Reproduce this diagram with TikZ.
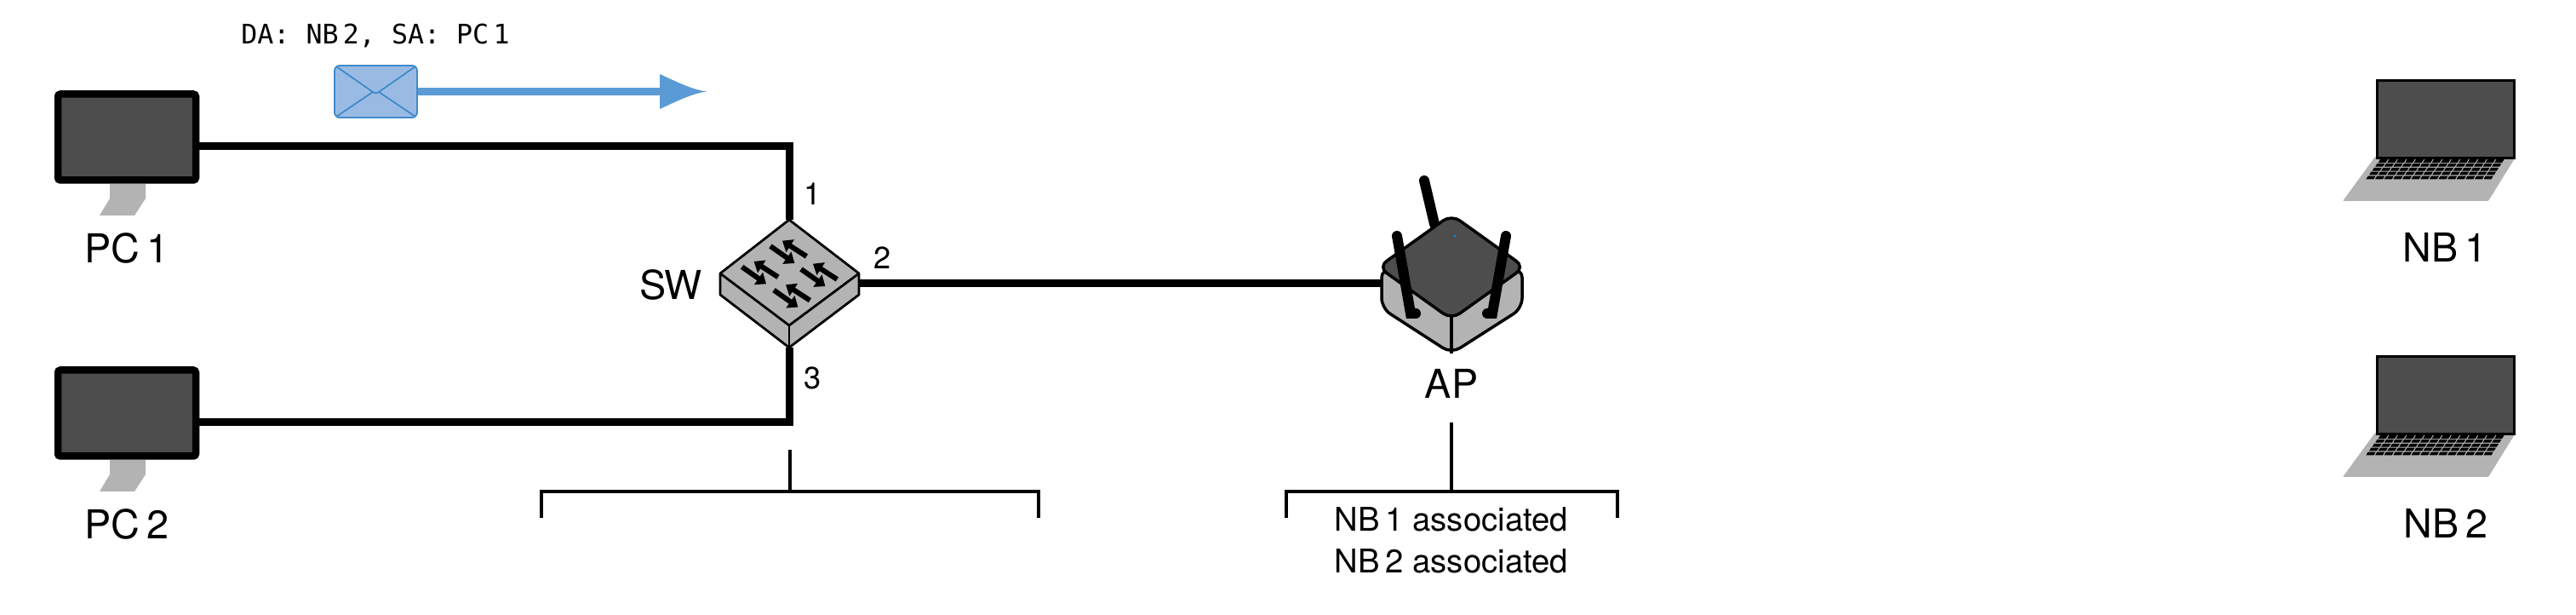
\documentclass[tikz,border=0pt]{standalone}
\usepackage{fontspec}
\setmainfont{TeX Gyre Heros}
\setmonofont{DejaVu Sans Mono}
\usetikzlibrary{arrows.meta}
\definecolor{screengray}{HTML}{4D4D4D}
\definecolor{bodygray}{HTML}{B3B3B3}
\definecolor{framesblue}{HTML}{5B9BD5}
\definecolor{envfill}{HTML}{99BBE3}
\definecolor{envline}{HTML}{3F8AC9}
\begin{document}
\begin{tikzpicture}[>=stealth,
    netlink/.style={line width=0.09cm},
    bracket/.style={line width=0.045cm},
    devline/.style={draw=black, line width=0.028cm, line join=round},
    monitor/.style={draw=black, fill=screengray, line width=0.085cm, rounded corners=0.03cm,
      minimum width=1.62cm, minimum height=1.01cm, inner sep=0pt, outer sep=0pt},
    antenna/.style={line width=0.12cm, line cap=round},
    swarrow/.style={-{Triangle[length=0.11cm, width=0.17cm]}, line width=0.06cm},
    envedge/.style={envline, line width=0.018cm},
    devlabel/.style={font=\fontsize{13.3}{15}\selectfont},
    portlabel/.style={font=\fontsize{10.3}{12}\selectfont},
    tablelabel/.style={font=\fontsize{10.9}{14}\selectfont, align=center}]
  \useasboundingbox (0, 0) rectangle (30.26, 7.22);

  % Link end points
  \coordinate (pc1port) at (2.34, 5.50);
  \coordinate (pc2port) at (2.34, 2.26);
  \coordinate (swtop) at (9.27, 4.64);
  \coordinate (swbot) at (9.27, 3.14);
  \coordinate (swright) at (10.09, 3.89);
  \coordinate (apleft) at (16.23, 3.89);

  % Cables
  \draw[netlink] (pc1port) -| (swtop);
  \draw[netlink] (pc2port) -| (swbot);
  \draw[netlink] (swright) -- (apleft);

  % PC stands and monitors
  \fill[bodygray] (1.29, 5.06) -- (1.29, 4.89) -- (1.17, 4.69) -- (1.58, 4.69) -- (1.71, 4.89) -- (1.71, 5.06) -- cycle;
  \fill[bodygray] (1.29, 1.82) -- (1.29, 1.65) -- (1.17, 1.45) -- (1.58, 1.45) -- (1.71, 1.65) -- (1.71, 1.82) -- cycle;
  \node[monitor] (pc1) at (1.49, 5.61) {};
  \node[monitor] (pc2) at (1.49, 2.37) {};
  \node[devlabel] (pc1label) at (1.49, 4.31) {PC\,1};
  \node[devlabel] (pc2label) at (1.49, 1.07) {PC\,2};

  % Frame going out of PC 1
  \node[draw=envline, fill=envfill, envedge, fill=envfill, rounded corners=0.06cm, minimum width=0.97cm,
    minimum height=0.61cm, inner sep=0pt] (env) at (4.415, 6.145) {};
  \draw[envedge] (3.95, 6.44) -- (4.38, 6.14) .. controls (4.40, 6.12) and (4.43, 6.12) .. (4.45, 6.14) -- (4.88, 6.44);
  \draw[envedge] (3.95, 5.85) -- (4.38, 6.14);
  \draw[envedge] (4.88, 5.85) -- (4.45, 6.14);
  \coordinate (framehead) at (7.80, 6.145);
  \draw[framesblue, line width=0.09cm] (env.east) -- (framehead);
  \fill[framesblue] (7.75, 6.35) .. controls (7.95, 6.26) and (8.12, 6.17) .. (8.30, 6.145)
    .. controls (8.12, 6.12) and (7.95, 6.03) .. (7.75, 5.94) -- cycle;
  \node[font=\ttfamily\fontsize{9}{11}\selectfont] (framelabel) at (4.41, 6.80) {DA:\ NB\,2,\ SA:\ PC\,1};

  % Switch
  \filldraw[devline, fill=bodygray] (8.46, 4.01) -- (9.27, 4.64) -- (10.09, 4.01) -- (10.09, 3.76) -- (9.27, 3.14) -- (8.46, 3.76) -- cycle;
  \draw[devline] (8.46, 4.01) -- (9.27, 3.40) -- (10.09, 4.01);
  \draw[devline] (9.27, 3.40) -- (9.27, 3.14);
  \foreach \x/\y in {9.267/4.263, 8.933/4.02, 9.627/3.993, 9.307/3.747} {
    \draw[swarrow] (\x-0.217, \y+0.067) -- (\x+0.067, \y-0.133);
    \draw[swarrow] (\x+0.207, \y-0.053) -- (\x-0.077, \y+0.13);
  }
  \node[devlabel] (swlabel) at (7.88, 3.88) {SW};
  \node[portlabel] (port1) at (9.55, 4.94) {1};
  \node[portlabel] (port2) at (10.37, 4.19) {2};
  \node[portlabel] (port3) at (9.55, 2.78) {3};

  % Access point
  \draw[antenna] (16.73, 5.10) -- (16.85, 4.59);
  \filldraw[devline, fill=bodygray, line width=0.035cm, rounded corners=0.12cm] (16.23, 4.08) -- (16.23, 3.60) -- (17.05, 3.07) -- (17.88, 3.60) -- (17.88, 4.08) -- (17.05, 3.55) -- cycle;
  \filldraw[devline, fill=screengray, line width=0.035cm, rounded corners=0.12cm] (17.05, 4.70) -- (17.91, 4.085) -- (17.05, 3.47) -- (16.19, 4.085) -- cycle;
  \draw[devline, line width=0.035cm] (17.05, 3.50) -- (17.05, 3.07);
  \fill[cyan!70!blue] (17.09, 4.45) circle (0.017);
  \draw[antenna] (16.41, 4.45) -- (16.57, 3.54) -- (16.63, 3.54);
  \draw[antenna] (17.69, 4.45) -- (17.53, 3.54) -- (17.47, 3.54);
  \node[devlabel] (aplabel) at (17.05, 2.72) {AP};

  % Laptops
  \foreach \n/\dy/\lx in {1/0/28.72, 2/-3.24/28.73} {
    \begin{scope}[yshift=\dy cm]
      \fill[bodygray, rounded corners=0.01cm] (27.90, 5.38) -- (29.54, 5.36) -- (29.23, 4.86) -- (27.52, 4.86) -- cycle;
      \filldraw[draw=black, fill=screengray, line width=0.03cm] (27.92, 5.36) rectangle (29.53, 6.27);
      \foreach \r in {0,...,4} {
        \pgfmathsetmacro{\ky}{5.35-0.049*\r}
        \pgfmathsetmacro{\kl}{27.96-0.036*\r}
        \pgfmathsetmacro{\kp}{0.105+0.0003*\r}
        \foreach \c in {0,...,13} {
          \fill[black] (\kl+\kp*\c, \ky) -- ++(0.09, 0) -- ++(-0.022, -0.038) -- ++(-0.09, 0) -- cycle;
        }
      }
    \end{scope}
    \node[devlabel] (nb\n) at (\lx, 4.32+\dy) {NB\,\n};
  }

  % Tables
  \coordinate (swtabletop) at (9.28, 1.94);
  \coordinate (swtablebar) at (9.28, 1.45);
  \coordinate (aptabletop) at (17.05, 2.26);
  \coordinate (aptablebar) at (17.05, 1.45);
  \draw[bracket] (swtabletop) -- (swtablebar);
  \draw[bracket] (aptabletop) -- (aptablebar);
  \draw[bracket] (6.36, 1.14) -- (6.36, 1.45) -- (12.20, 1.45) -- (12.20, 1.14);
  \draw[bracket] (15.11, 1.14) -- (15.11, 1.45) -- (19.00, 1.45) -- (19.00, 1.14);
  \node[tablelabel] (aptable) at (17.05, 0.88) {NB\,1 associated\\NB\,2 associated};

\end{tikzpicture}
\end{document}
